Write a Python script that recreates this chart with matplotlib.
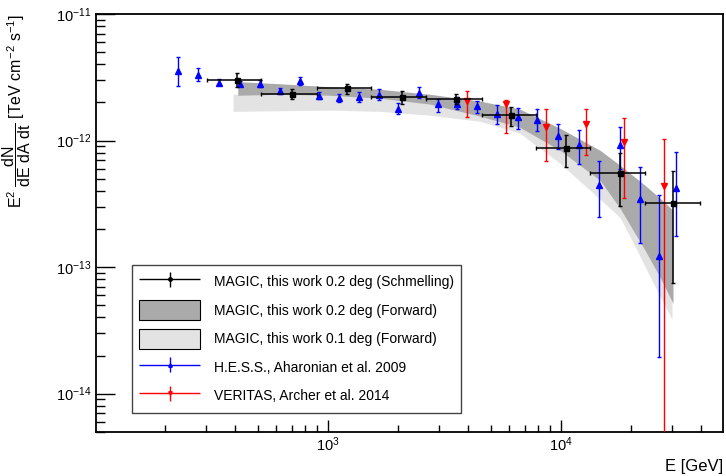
import numpy as np
import matplotlib
matplotlib.use("Agg")
import matplotlib.pyplot as plt
from matplotlib.patches import Patch
from matplotlib.legend_handler import HandlerErrorbar
from matplotlib.ticker import FixedLocator, LogLocator, LogFormatterSciNotation, NullFormatter

plt.rcParams["font.family"] = ["Liberation Sans", "DejaVu Sans"]
plt.rcParams["mathtext.fontset"] = "custom"
plt.rcParams["mathtext.rm"] = "Liberation Sans"
plt.rcParams["mathtext.it"] = "Liberation Sans:italic"
plt.rcParams["mathtext.bf"] = "Liberation Sans:bold"

# MAGIC, this work 0.2 deg (Schmelling unfolding) [GeV, TeV cm^-2 s^-1]
magic_e = np.array([408, 703, 1210, 2073, 3549, 6110, 10508, 17930, 30380])
magic_e_lo = np.array([301, 518, 894, 1531, 2636, 4576, 7808, 13360, 23000])
magic_e_hi = np.array([518, 894, 1531, 2636, 4576, 7808, 13360, 23000, 39700])
magic_f = np.array([3.01e-12, 2.35e-12, 2.58e-12, 2.21e-12, 2.11e-12, 1.58e-12, 8.74e-13, 5.54e-13, 3.21e-13])
magic_f_hi = np.array([3.39e-12, 2.54e-12, 2.82e-12, 2.47e-12, 2.35e-12, 1.84e-12, 1.11e-12, 8.04e-13, 5.72e-13])
magic_f_lo = np.array([2.65e-12, 2.12e-12, 2.32e-12, 1.96e-12, 1.94e-12, 1.30e-12, 6.18e-13, 3.06e-13, 7.54e-14])

# MAGIC 0.2 deg forward folding band
fw02_e = np.array([410, 622, 1020, 1673, 2744, 4500, 6686, 9931, 14754, 17980, 23030, 26720, 30380])
fw02_hi = np.array([2.92e-12, 2.81e-12, 2.66e-12, 2.54e-12, 2.32e-12, 2.05e-12, 1.77e-12, 1.25e-12,
                    8.38e-13, 6.38e-13, 4.43e-13, 3.50e-13, 2.81e-13])
fw02_lo = np.array([2.28e-12, 2.32e-12, 2.28e-12, 2.16e-12, 1.94e-12, 1.56e-12, 1.27e-12, 8.38e-13,
                    4.86e-13, 2.92e-13, 1.36e-13, 8.31e-14, 5.17e-14])

# MAGIC 0.1 deg forward folding band
fw01_e = np.array([391, 622, 1020, 1673, 2744, 4500, 6686, 9931, 14754, 17980, 21280, 23030, 26720, 30080])
fw01_hi = np.array([2.32e-12, 2.41e-12, 2.37e-12, 2.28e-12, 2.05e-12, 1.64e-12, 1.35e-12, 8.6e-13,
                    5.0e-13, 3.2e-13, 1.78e-13, 1.43e-13, 8.77e-14, 5.46e-14])
fw01_lo = np.array([1.70e-12, 1.72e-12, 1.74e-12, 1.70e-12, 1.585e-12, 1.42e-12, 1.14e-12, 6.61e-13,
                    3.44e-13, 2.47e-13, 1.36e-13, 1.01e-13, 5.88e-14, 3.87e-14])

# H.E.S.S., Aharonian et al. 2009
hess_e = np.array([227, 277, 341, 419, 510, 622, 758, 918, 1118, 1363, 1657, 2005, 2461, 2961, 3595,
                   4381, 5340, 6535, 7933, 9765, 11984, 14605, 17925, 21920, 26530, 31400])
hess_f = np.array([3.55e-12, 3.28e-12, 2.87e-12, 2.82e-12, 2.82e-12, 2.47e-12, 2.94e-12, 2.25e-12, 2.17e-12,
                   2.19e-12, 2.28e-12, 1.79e-12, 2.38e-12, 1.93e-12, 1.96e-12, 1.87e-12, 1.61e-12, 1.54e-12,
                   1.45e-12, 1.09e-12, 9.18e-13, 4.43e-13, 9.30e-13, 3.48e-13, 1.22e-13, 4.25e-13])
hess_f_hi = np.array([4.58e-12, 3.71e-12, 3.07e-12, 2.96e-12, 3.03e-12, 2.60e-12, 3.15e-12, 2.42e-12, 2.35e-12,
                      2.42e-12, 2.54e-12, 1.98e-12, 2.65e-12, 2.12e-12, 2.21e-12, 2.05e-12, 1.90e-12, 1.81e-12,
                      1.76e-12, 1.35e-12, 1.22e-12, 6.86e-13, 1.27e-12, 6.18e-13, 3.74e-13, 8.13e-13])
hess_f_lo = np.array([2.69e-12, 2.94e-12, 2.74e-12, 2.69e-12, 2.65e-12, 2.34e-12, 2.77e-12, 2.11e-12, 2.02e-12,
                      2.02e-12, 2.08e-12, 1.63e-12, 2.17e-12, 1.68e-12, 1.79e-12, 1.66e-12, 1.36e-12, 1.24e-12,
                      1.19e-12, 8.53e-13, 6.50e-13, 2.49e-13, 6.01e-13, 1.56e-13, 1.95e-14, 1.75e-13])

# VERITAS, Archer et al. 2014
ver_e = np.array([3945, 5802, 8619, 12803, 18765, 27790])
ver_f = np.array([2.06e-12, 1.96e-12, 1.27e-12, 1.35e-12, 9.75e-13, 4.38e-13])
ver_f_hi = np.array([2.47e-12, 2.08e-12, 1.76e-12, 1.79e-12, 1.51e-12, 1.02e-12])
ver_f_lo = np.array([1.54e-12, 1.15e-12, 6.86e-13, 7.65e-13, 3.54e-13, 1e-16])

x_major = [1e3, 1e4]
y_major = [1e-14, 1e-13, 1e-12, 1e-11]

fig = plt.figure(figsize=(7.26, 4.76), dpi=100)
ax = fig.add_axes([0.1318, 0.0931, 0.864, 0.8775])

ax.fill_between(fw01_e, fw01_lo, fw01_hi, color="#e3e3e3", lw=0, zorder=1)
ax.fill_between(fw02_e, fw02_lo, fw02_hi, color="#aaaaaa", lw=0, zorder=2)

ax.errorbar(hess_e, hess_f, yerr=[hess_f - hess_f_lo, hess_f_hi - hess_f], fmt="^", color="blue",
            ms=4, capsize=1.5, elinewidth=1, capthick=1, zorder=4)
ax.errorbar(ver_e, ver_f, yerr=[ver_f - ver_f_lo, ver_f_hi - ver_f], fmt="v", color="red",
            ms=4, capsize=1.5, elinewidth=1, capthick=1, zorder=4)
ax.errorbar(magic_e, magic_f, xerr=[magic_e - magic_e_lo, magic_e_hi - magic_e],
            yerr=[magic_f - magic_f_lo, magic_f_hi - magic_f], fmt="s", color="black",
            ms=3.6, capsize=1.5, elinewidth=1.1, capthick=1, zorder=5)

ax.set_xscale("log")
ax.set_yscale("log")
ax.set_xlim(100.5, 49800)
ax.set_ylim(5e-15, 1e-11)

# legend proxies
h_magic = ax.errorbar([np.nan], [np.nan], xerr=[[1], [1]], yerr=[[1], [1]], fmt="o", color="black",
                      ms=2.5, elinewidth=1)
h_hess = ax.errorbar([np.nan], [np.nan], xerr=[[1], [1]], yerr=[[1], [1]], fmt="^", color="blue",
                     ms=2.5, elinewidth=1)
h_ver = ax.errorbar([np.nan], [np.nan], xerr=[[1], [1]], yerr=[[1], [1]], fmt="v", color="red",
                    ms=2.5, elinewidth=1)
p02 = Patch(facecolor="#aaaaaa", edgecolor="black", lw=0.8)
p01 = Patch(facecolor="#e3e3e3", edgecolor="black", lw=0.8)

hm = {c: HandlerErrorbar(xerr_size=2.2, yerr_size=0.55) for c in (h_magic, h_hess, h_ver)}
leg = ax.legend([h_magic, p02, p01, h_hess, h_ver],
                ["MAGIC, this work 0.2 deg (Schmelling)", "MAGIC, this work 0.2 deg (Forward)",
                 "MAGIC, this work 0.1 deg (Forward)", "H.E.S.S., Aharonian et al. 2009",
                 "VERITAS, Archer et al. 2014"],
                handler_map=hm, loc="lower left", bbox_to_anchor=(0.058, 0.045), borderaxespad=0,
                fontsize=10, handlelength=4.4, handleheight=1.84, labelspacing=0.61,
                handletextpad=1.0, borderpad=0.5, fancybox=False, framealpha=1, edgecolor="#444444")
leg.get_frame().set_linewidth(1)

ax.xaxis.set_major_locator(FixedLocator(x_major))
ax.xaxis.set_major_formatter(LogFormatterSciNotation())
ax.xaxis.set_minor_locator(LogLocator(base=10, subs=np.arange(2, 10)))
ax.xaxis.set_minor_formatter(NullFormatter())
ax.yaxis.set_major_locator(FixedLocator(y_major))
ax.yaxis.set_major_formatter(LogFormatterSciNotation())
ax.yaxis.set_minor_locator(LogLocator(base=10, subs=np.arange(2, 10)))
ax.yaxis.set_minor_formatter(NullFormatter())

ax.tick_params(which="both", direction="in", top=False, right=False, width=1, labelsize=10.5)
ax.tick_params(axis="y", which="major", length=13.7, pad=3)
ax.tick_params(axis="y", which="minor", length=6.7)
ax.tick_params(axis="x", which="major", length=8.4, pad=3)
ax.tick_params(axis="x", which="minor", length=4.8)
for s in ax.spines.values():
    s.set_linewidth(1.3)

ax.set_xlabel("E [GeV]", fontsize=12, loc="right")
ax.xaxis.set_label_coords(1.0, -0.065)
ax.set_ylabel(r"$\mathregular{E^{2}\ \dfrac{dN}{dE\ dA\ dt}}$ [TeV cm$^{-2}$ s$^{-1}$]",
              fontsize=11.5, loc="top")
ax.yaxis.set_label_coords(-0.1, 1.0)

fig.savefig("out.png", dpi=100)
